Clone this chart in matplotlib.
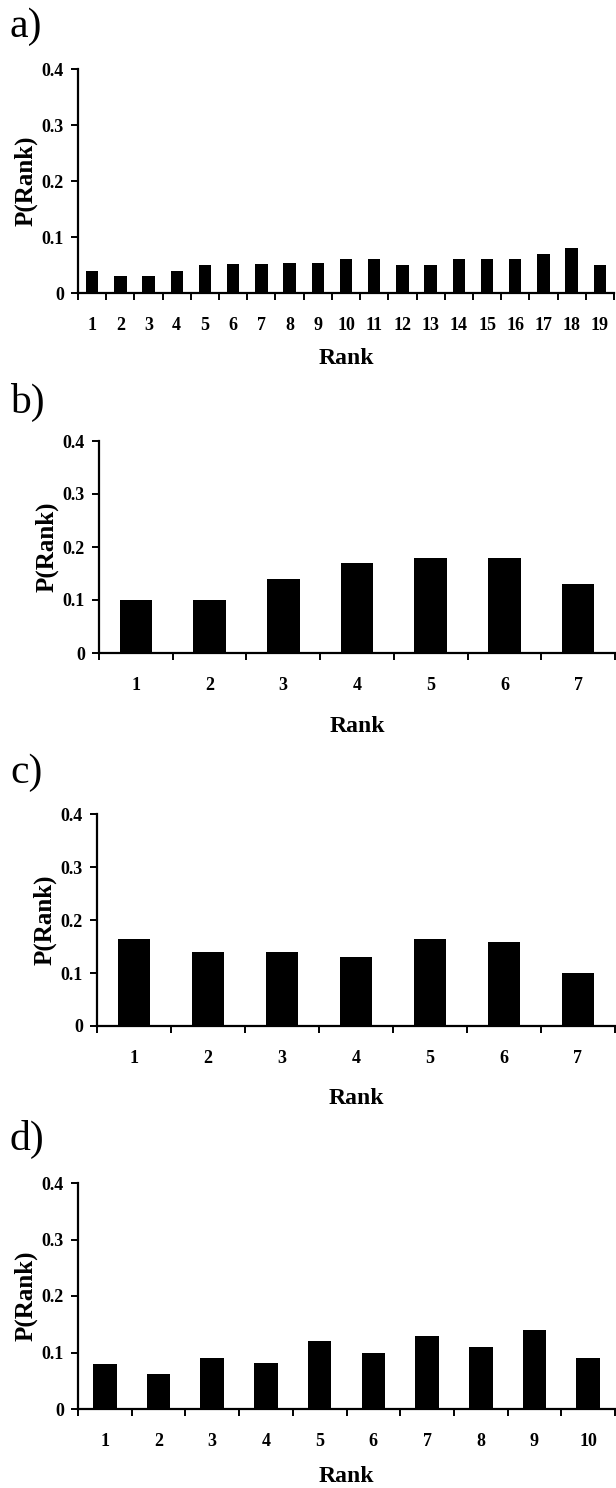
import numpy as np
import matplotlib
matplotlib.use("Agg")
import matplotlib.pyplot as plt

# Data
ranks_a = list(range(1, 20))
p_a = [0.04, 0.03, 0.03, 0.04, 0.05, 0.052, 0.052, 0.054, 0.054, 0.06,
       0.06, 0.05, 0.05, 0.06, 0.06, 0.06, 0.07, 0.08, 0.05]

ranks_b = list(range(1, 8))
p_b = [0.10, 0.10, 0.14, 0.17, 0.18, 0.18, 0.13]

ranks_c = list(range(1, 8))
p_c = [0.165, 0.14, 0.14, 0.13, 0.164, 0.159, 0.10]

ranks_d = list(range(1, 11))
p_d = [0.08, 0.062, 0.091, 0.081, 0.12, 0.099, 0.13, 0.11, 0.14, 0.09]

panel_labels = ["a)", "b)", "c)", "d)"]
yticks = [0, 0.1, 0.2, 0.3, 0.4]
ytick_labels = ["0", "0.1", "0.2", "0.3", "0.4"]

plt.rcParams['font.family'] = ['Liberation Serif', 'DejaVu Serif']

W, H = 616, 1488
fig = plt.figure(figsize=(W / 100, H / 100), dpi=100)

# pixel boxes: left, right, top (0.4), bottom (0), panel-label y, x-label y
boxes = [
    (78, 614, 69, 293, 27, 358),
    (99, 615, 441, 653, 402, 727),
    (97, 615, 814, 1026, 773, 1098),
    (78, 615, 1183, 1409, 1139, 1476),
]
data = [(ranks_a, p_a), (ranks_b, p_b), (ranks_c, p_c), (ranks_d, p_d)]


def draw_panel(box, ranks, vals, letter):
    l, r, t, b, ly, xly = box
    ax = fig.add_axes([l / W, 1 - b / H, (r - l) / W, (b - t) / H])
    ax.bar(ranks, vals, width=0.44, color="black")
    n = len(ranks)
    ax.set_xlim(0.5, n + 0.5)
    ax.set_ylim(0, 0.4)

    for s in ["top", "right"]:
        ax.spines[s].set_visible(False)
    for s in ["left", "bottom"]:
        ax.spines[s].set_linewidth(1.6)

    ax.set_yticks(yticks)
    ax.set_yticklabels(ytick_labels, fontsize=13, fontweight="bold")
    ax.tick_params(axis="y", direction="out", length=5, width=1.4, pad=5)

    # tick marks sit on the category boundaries, labels at the centres
    ax.set_xticks(np.arange(0.5, n + 1.0, 1.0))
    ax.set_xticklabels([])
    ax.set_xticks(ranks, minor=True)
    ax.set_xticklabels([str(k) for k in ranks], minor=True, fontsize=13,
                       fontweight="bold")
    ax.tick_params(axis="x", which="major", direction="out", length=5, width=1.4)
    ax.tick_params(axis="x", which="minor", length=0, pad=17)

    ax.set_ylabel("P(Rank)", fontsize=18, fontweight="bold", labelpad=3)
    fig.text((l + r) / 2 / W, 1 - xly / H, "Rank", fontsize=17,
             fontweight="bold", ha="center", va="center")
    fig.text(10 / W, 1 - ly / H, letter, fontsize=30, ha="left", va="center")
    return ax


for box, (ranks, vals), letter in zip(boxes, data, panel_labels):
    draw_panel(box, ranks, vals, letter)

fig.savefig("out.png", dpi=100)
